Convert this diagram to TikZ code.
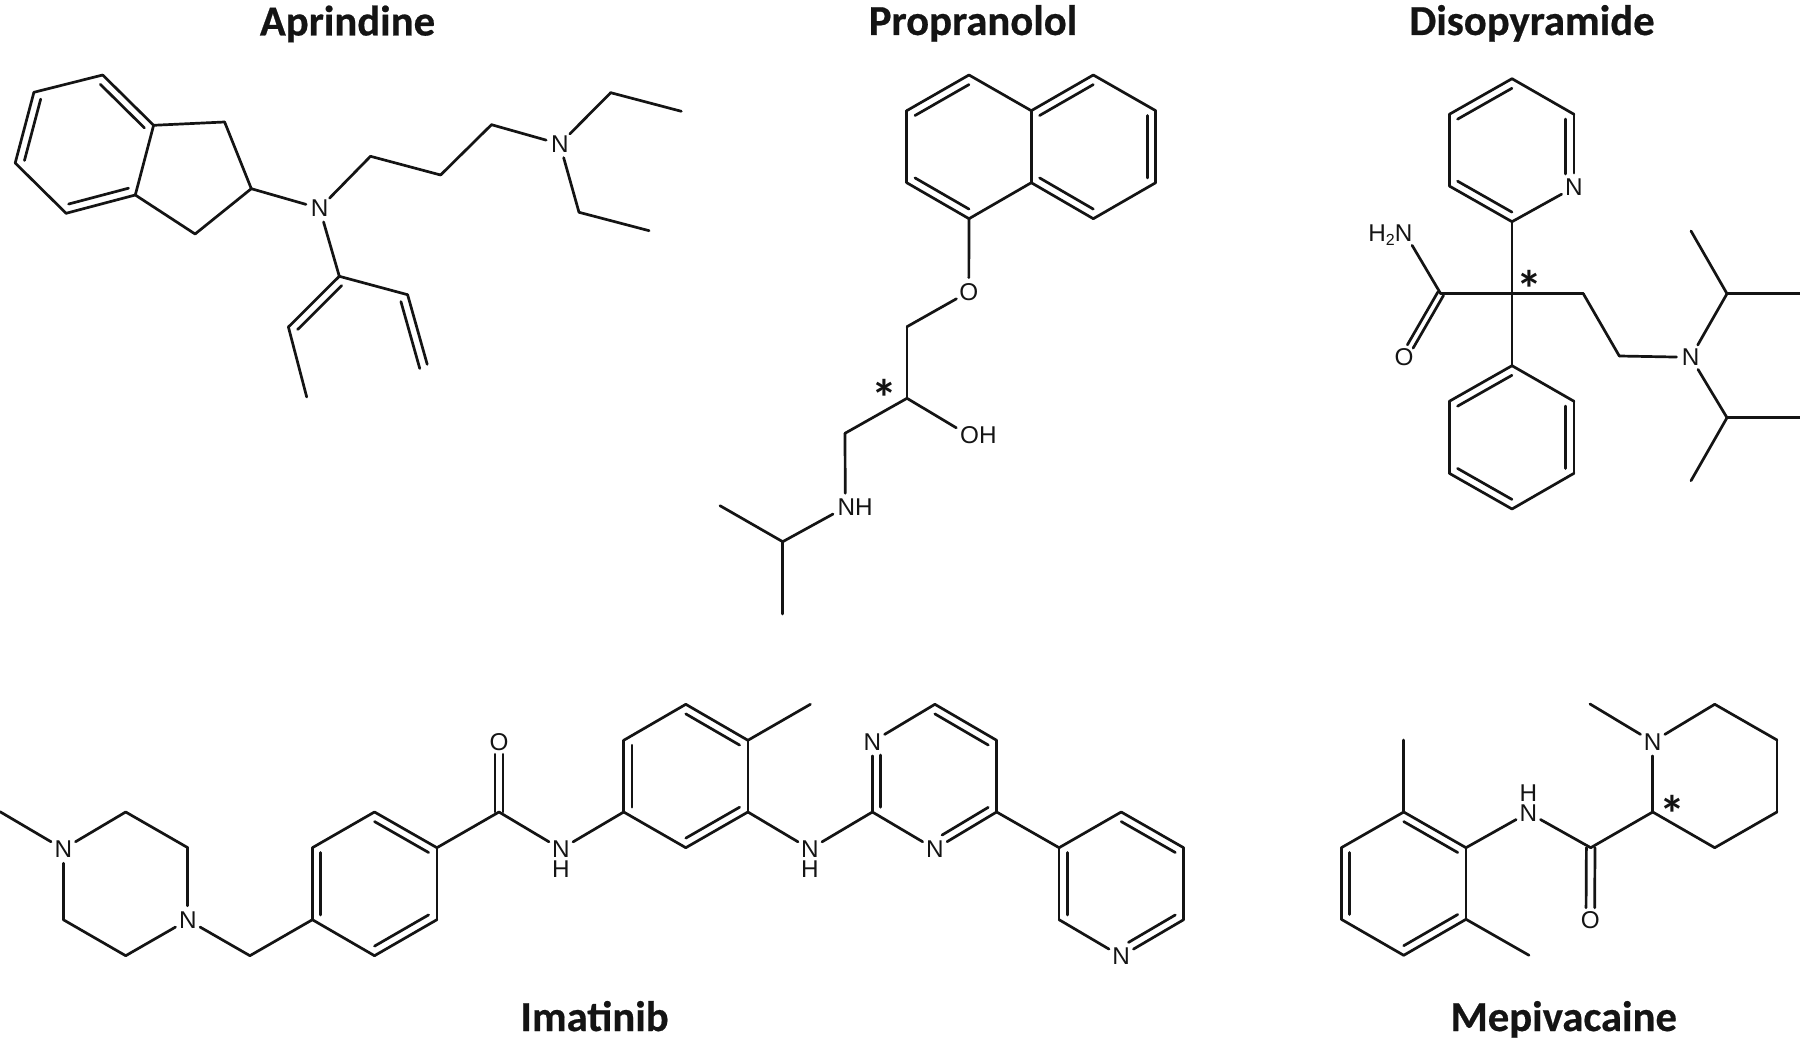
\documentclass[tikz,border=0pt]{standalone}
\usepackage{fontspec}
\setmainfont{Liberation Sans}
\newfontfamily\ttlfont[BoldFeatures={FakeBold=0.5}]{Carlito}
\newfontfamily\sternfont{Carlito}
\usetikzlibrary{calc}
\definecolor{ink}{HTML}{141414}
\tikzset{
  bond/.style={draw=ink,line width=2.7pt,line cap=round,line join=round},
  gap/.style={shorten >=14pt},
  atom/.style={circle,inner sep=0pt,minimum size=28pt,text=ink,font=\fontsize{24.3}{20}\selectfont},
  lbl/.style={inner sep=0pt,text=ink,align=center,font=\fontsize{24.3}{20}\selectfont},
  ttl/.style={anchor=base,inner sep=0pt,text=ink,font=\ttlfont\bfseries\fontsize{42.7}{44}\selectfont},
  stern/.style={anchor=base,inner sep=0pt,text=ink,font=\sternfont\bfseries\fontsize{52}{54}\selectfont}
}
\newcommand\atm[3]{\coordinate (#1) at (#2,#3);}
\newcommand\sbd[2]{\draw[bond] (#1) -- (#2);}
\newcommand\gb[2]{\draw[bond,gap] (#1) -- (#2);}
\newcommand\rb[3][4.8pt]{\draw[bond] (#2) -- (#3);
  \draw[bond] ($(#2)!4.8pt!(#3)!8.3pt!-90:(#3)$) -- ($(#3)!#1!(#2)!8.3pt!90:(#2)$);}
\newcommand\cob[3][4.1pt]{%
  \draw[bond] ($(#2)!#1!90:(#3)$) -- ($(#3)!12.5pt!(#2)!#1!-90:(#2)$);
  \draw[bond] ($(#2)!#1!-90:(#3)$) -- ($(#3)!12.5pt!(#2)!#1!90:(#2)$);}
\begin{document}
\begin{tikzpicture}[x=1pt,y=-1pt]
\fill[white] (0,0) rectangle (1800,1043);
\useasboundingbox (0,0) rectangle (1800,1043);

% ---------- titles
\node[ttl] (tA) at (347.5,35.5) {Aprindine};
\node[ttl] (tP) at (973,35) {Propranolol};
\node[ttl] (tD) at (1532,35) {Disopyramide};
\node[ttl] (tI) at (594.6,1031) {Imatinib};
\node[ttl] (tM) at (1563.7,1031) {Mepivacaine};

% ---------- Aprindine
\atm{a1}{102.7}{75}\atm{a2}{33.9}{92.3}\atm{a3}{15.2}{163}\atm{a4}{66.1}{213.3}
\atm{a5}{135.3}{195}\atm{a6}{153.6}{125.3}\atm{a7}{224.6}{122}\atm{a8}{251.3}{188.7}\atm{a9}{195.1}{234}
\atm{b1}{370.5}{156.3}\atm{b2}{440.6}{175}\atm{b3}{491.5}{124.7}
\atm{c1}{610.7}{92.7}\atm{c2}{681.3}{111.3}\atm{d1}{579}{212.3}\atm{d2}{649.1}{230.7}
\atm{e1}{339.3}{276.3}\atm{e2}{288.4}{327}\atm{e3}{306.7}{397}\atm{f1}{407.6}{294.7}\atm{f2}{427.2}{364.3}
\node[atom] (na1) at (319.6,208.3) {N};
\node[atom] (na2) at (559.8,144) {N};
\rb{a1}{a6}\sbd{a6}{a5}\rb{a5}{a4}\sbd{a4}{a3}\rb{a3}{a2}\sbd{a2}{a1}
\sbd{a6}{a7}\sbd{a7}{a8}\sbd{a8}{a9}\sbd{a9}{a5}
\sbd{a8}{na1}\sbd{na1}{b1}\sbd{b1}{b2}\sbd{b2}{b3}\sbd{b3}{na2}
\sbd{na2}{c1}\sbd{c1}{c2}\sbd{na2}{d1}\sbd{d1}{d2}
\sbd{na1}{e1}\rb{e2}{e1}\sbd{e2}{e3}\sbd{e1}{f1}\rb[-2pt]{f1}{f2}

% ---------- Propranolol
\atm{p1}{969}{75}\atm{p2}{906.7}{110.7}\atm{p3}{906.7}{182.7}\atm{p4}{969}{218.7}
\atm{p5}{1031.3}{182.7}\atm{p6}{1031.3}{110.7}\atm{p7}{1093.3}{75}\atm{p8}{1155.7}{110.7}
\atm{p9}{1155.7}{182.7}\atm{p10}{1093.3}{218.7}
\atm{q1}{907}{326.7}\atm{q2}{907}{398.3}\atm{q3}{845}{433.3}\atm{q4}{782.7}{541.7}
\atm{q5}{720}{505.7}\atm{q6}{782.7}{614}
\atm{oh}{968.3}{435}\atm{nhp}{845.3}{507.3}
\node[atom] (op) at (968.8,291.8) {O};
\node[lbl,anchor=west] (ohl) at (960,435) {OH};
\node[lbl,anchor=west] (nhl) at (837.3,507.3) {NH};
\node[stern] (sp) at (884.3,416.7) {*};
\rb{p2}{p1}\sbd{p1}{p6}\sbd{p6}{p5}\sbd{p5}{p4}\rb{p4}{p3}\sbd{p3}{p2}
\rb{p6}{p7}\sbd{p7}{p8}\rb{p8}{p9}\sbd{p9}{p10}\rb{p10}{p5}
\sbd{p4}{op}\sbd{op}{q1}\sbd{q1}{q2}\gb{q2}{oh}\sbd{q2}{q3}\gb{q3}{nhp}\gb{q4}{nhp}\sbd{q4}{q5}\sbd{q4}{q6}

% ---------- Disopyramide
\atm{r1}{1512}{78.7}\atm{r2}{1449.3}{114.3}\atm{r3}{1449.3}{186}\atm{r4}{1512}{221.7}\atm{r6}{1574}{114.3}
\atm{s}{1512}{293.7}
\atm{t1}{1512}{365.7}\atm{t2}{1449.3}{401.3}\atm{t3}{1449.3}{473.3}\atm{t4}{1512}{509}\atm{t5}{1574}{473.3}\atm{t6}{1574}{401.3}
\atm{u}{1440.7}{293.7}\atm{h2n}{1405}{233.3}
\atm{v1}{1583.3}{293.7}\atm{v2}{1619.3}{356}
\atm{w1}{1727}{293.7}\atm{w2}{1691}{231}\atm{w3}{1800}{293.7}
\atm{x1}{1727}{417.7}\atm{x2}{1800}{417.7}\atm{x3}{1691}{480.7}
\node[atom] (nd1) at (1574,187.3) {N};
\node[atom] (nd2) at (1690.7,357.3) {N};
\node[atom] (od) at (1404,357.3) {O};
\node[lbl,anchor=base east] (h2l) at (1412.5,241.5) {H\raisebox{-4.5pt}{\fontsize{16}{16}\selectfont 2}N};
\node[stern] (sd) at (1529.3,307.7) {*};
\sbd{r1}{r6}\rb[13.3pt]{r6}{nd1}\sbd{nd1}{r4}\rb{r4}{r3}\sbd{r3}{r2}\rb{r2}{r1}
\sbd{r4}{s}\sbd{s}{t1}
\rb{t2}{t1}\sbd{t1}{t6}\rb{t6}{t5}\sbd{t5}{t4}\rb{t4}{t3}\sbd{t3}{t2}
\sbd{u}{s}\gb{u}{h2n}\cob[3.3pt]{u}{od}
\sbd{s}{v1}\sbd{v1}{v2}\sbd{v2}{nd2}\sbd{nd2}{w1}\sbd{w1}{w2}\sbd{w1}{w3}\sbd{nd2}{x1}\sbd{x1}{x2}\sbd{x1}{x3}

% ---------- Imatinib
\atm{g0}{0}{811.7}\atm{g1}{125.7}{812}\atm{g2}{187.8}{847.7}\atm{g3}{125.7}{955.7}\atm{g4}{63.3}{919.7}
\atm{h1}{249.9}{955.7}
\atm{i1}{312.4}{919.7}\atm{i2}{312.4}{847.7}\atm{i3}{374.5}{812}\atm{i4}{436.9}{847.7}\atm{i5}{436.9}{919.7}\atm{i6}{374.5}{955.7}
\atm{j}{499}{812}\atm{nh1}{561}{849}\atm{nh2}{810}{849}
\atm{k1}{623.7}{812}\atm{k2}{623.7}{740.3}\atm{k3}{685.8}{704.3}\atm{k4}{747.9}{740.3}\atm{k5}{747.9}{812}\atm{k6}{685.8}{847.7}\atm{k7}{810.4}{704.3}
\atm{l1}{872.4}{812}\atm{l2}{934.9}{704.3}\atm{l3}{996.6}{740.3}\atm{l4}{996.6}{812}
\atm{m1}{1059.1}{847.7}\atm{m2}{1121.2}{812}\atm{m3}{1183.6}{847.7}\atm{m4}{1183.6}{919.7}\atm{m6}{1059.1}{919.7}
\node[atom] (ni1) at (63.3,849) {N};
\node[atom] (ni2) at (187.8,920) {N};
\node[atom] (oi) at (499,741.7) {O};
\node[atom] (ni3) at (872.4,741.7) {N};
\node[atom] (ni4) at (934.9,849) {N};
\node[atom] (ni5) at (1121.2,956.3) {N};
\node[lbl] (nhl1) at (561,859) {N\\H};
\node[lbl] (nhl2) at (810,859) {N\\H};
\sbd{g0}{ni1}\sbd{ni1}{g1}\sbd{g1}{g2}\sbd{g2}{ni2}\sbd{ni2}{g3}\sbd{g3}{g4}\sbd{g4}{ni1}
\sbd{ni2}{h1}\sbd{h1}{i1}
\rb{i1}{i2}\sbd{i2}{i3}\rb{i3}{i4}\sbd{i4}{i5}\rb{i5}{i6}\sbd{i6}{i1}
\sbd{i4}{j}\cob{j}{oi}\gb{j}{nh1}\gb{k1}{nh1}
\rb{k1}{k2}\sbd{k2}{k3}\rb{k3}{k4}\sbd{k4}{k5}\rb{k5}{k6}\sbd{k6}{k1}
\sbd{k4}{k7}\gb{k5}{nh2}\gb{l1}{nh2}
\rb[13.3pt]{l1}{ni3}\sbd{ni3}{l2}\rb{l2}{l3}\sbd{l3}{l4}\rb[13.3pt]{l4}{ni4}\sbd{ni4}{l1}
\sbd{l4}{m1}
\rb{m2}{m3}\sbd{m3}{m4}\rb[13.3pt]{m4}{ni5}\sbd{ni5}{m6}\rb{m6}{m1}\sbd{m1}{m2}

% ---------- Mepivacaine
\atm{o1}{1403.7}{812}\atm{o2}{1341.3}{847.7}\atm{o3}{1341.3}{919.3}\atm{o4}{1403.7}{955.3}\atm{o5}{1466}{919.3}\atm{o6}{1466}{847.7}
\atm{o7}{1403.7}{740}\atm{o8}{1529}{955.3}\atm{nhm}{1528.3}{812.7}
\atm{cm}{1590.7}{847.7}\atm{y1}{1652.7}{812}\atm{y2}{1714.7}{704.3}\atm{y3}{1777}{740}\atm{y4}{1777}{812}\atm{y5}{1714.7}{847.7}\atm{y6}{1590}{704}
\node[atom] (nm) at (1652.7,741.7) {N};
\node[atom] (om) at (1590.3,920.3) {O};
\node[lbl] (nhl3) at (1528.3,802.7) {H\\N};
\node[stern] (sm) at (1672.7,832.7) {*};
\rb{o1}{o6}\sbd{o6}{o5}\rb{o5}{o4}\sbd{o4}{o3}\rb{o3}{o2}\sbd{o2}{o1}
\sbd{o1}{o7}\sbd{o5}{o8}\gb{o6}{nhm}\gb{cm}{nhm}\cob[4.3pt]{cm}{om}\sbd{cm}{y1}
\sbd{y1}{nm}\sbd{nm}{y2}\sbd{y2}{y3}\sbd{y3}{y4}\sbd{y4}{y5}\sbd{y5}{y1}\sbd{nm}{y6}
\end{tikzpicture}
\end{document}
